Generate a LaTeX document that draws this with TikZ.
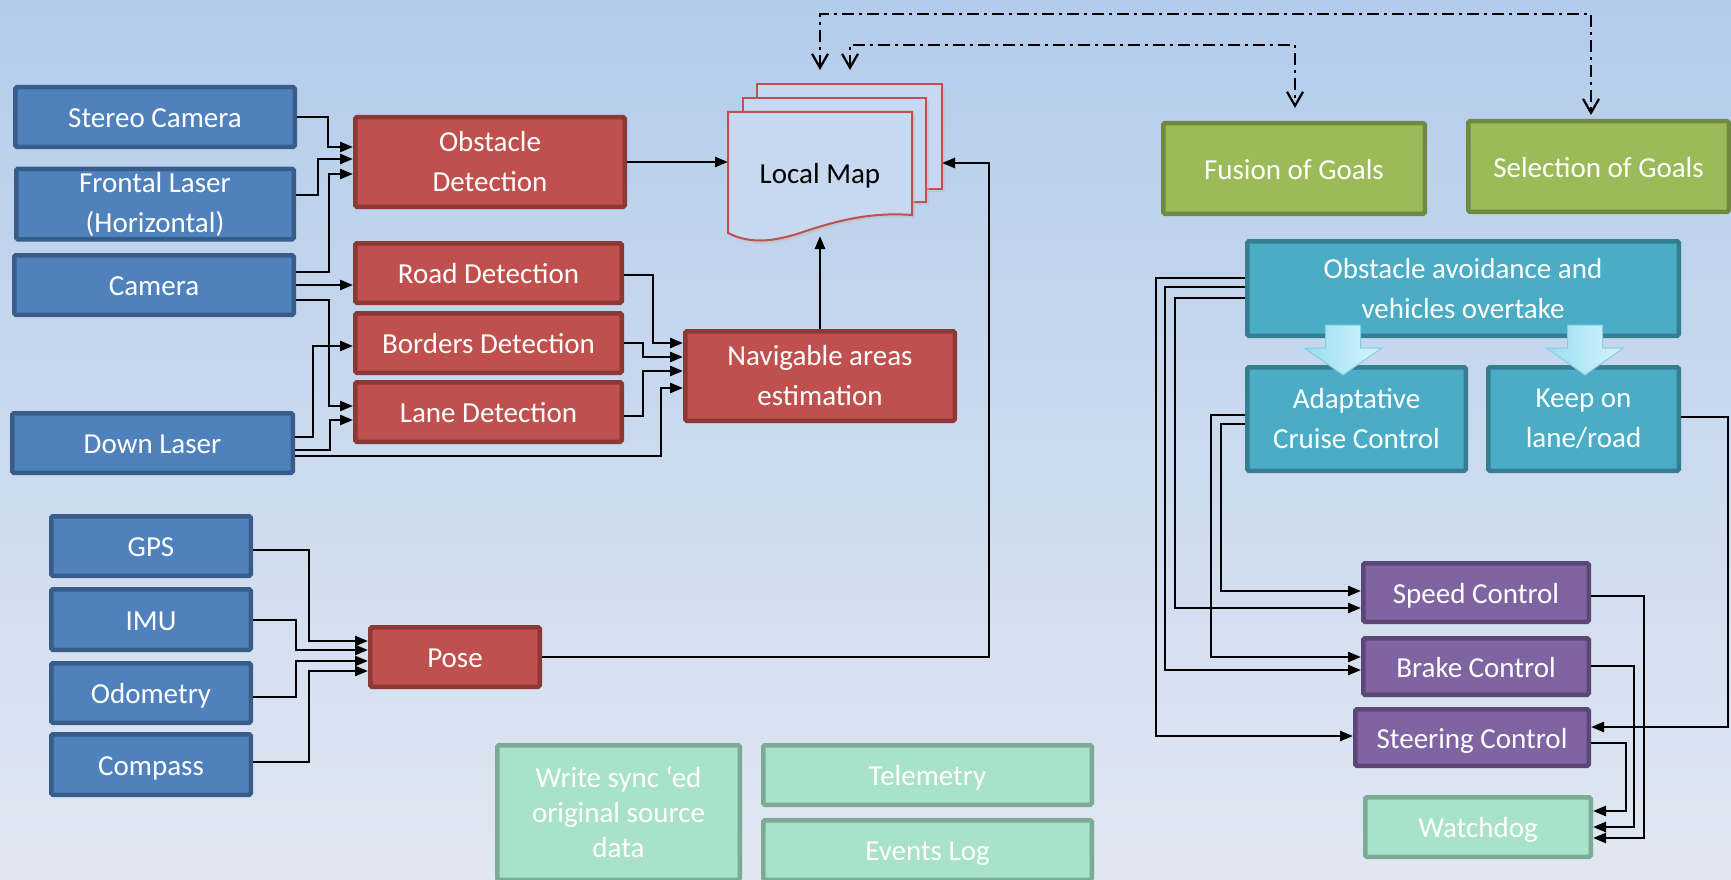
\documentclass[tikz,border=0pt]{standalone}
\usepackage{fontspec}
\setmainfont{Carlito}
\usetikzlibrary{arrows.meta}
\definecolor{bF}{HTML}{4F81BD}\definecolor{bD}{HTML}{385D8A}
\definecolor{rF}{HTML}{C0504D}\definecolor{rD}{HTML}{8C3836}
\definecolor{gF}{HTML}{9BBB59}\definecolor{gD}{HTML}{71893F}
\definecolor{tF}{HTML}{4BACC6}\definecolor{tD}{HTML}{357D91}
\definecolor{pF}{HTML}{8064A2}\definecolor{pD}{HTML}{5C4776}
\definecolor{mF}{HTML}{A9E2CA}\definecolor{mD}{HTML}{7BAA95}
\definecolor{bgT}{HTML}{B3CCEB}\definecolor{bgB}{HTML}{E1E7F2}
\definecolor{mapF}{HTML}{C6D9F0}
\definecolor{arrL}{HTML}{9ADCF0}\definecolor{arrR}{HTML}{D6F6FF}\definecolor{arrD}{HTML}{86CDE2}
\begin{document}
\begin{tikzpicture}[x=1pt,y=-1pt,
  box/.style={rectangle, rounded corners=1.5pt, line width=4.5pt, outer sep=2.25pt, inner sep=0pt, text=white,
    font=\fontsize{29}{40}\selectfont, align=center},
  one/.style={text height=21pt, text depth=0pt},
  sz/.style 2 args={minimum width=#1pt-4.5pt, minimum height=#2pt-4.5pt},
  bluebox/.style={box, fill=bF, draw=bD},
  redbox/.style={box, fill=rF, draw=rD},
  greenbox/.style={box, fill=gF, draw=gD},
  tealbox/.style={box, fill=tF, draw=tD},
  purplebox/.style={box, fill=pF, draw=pD},
  mintbox/.style={box, fill=mF, draw=mD},
  conn/.style={line width=2.5pt, -{Triangle[length=13pt,width=10pt]}},
  dd/.style={line width=2.2pt, dash pattern=on 12pt off 5pt on 3pt off 5pt,
    {Straight Barb[length=14pt,width=16pt]}-{Straight Barb[length=14pt,width=16pt]}},
  mappage/.style={fill=mapF, draw=rF, line width=2pt}
]
\useasboundingbox (0,0) rectangle (1731,880);
\clip (0,0) rectangle (1731,880);
\fill[top color=bgT, bottom color=bgB] (0,0) rectangle (1731,880);

% ---- left sensors
\node[bluebox, one, sz={284}{64}] (sc) at (155,117) {Stereo Camera};
\node[bluebox, sz={282}{75}] (fl) at (155,204) {Frontal Laser\\(Horizontal)};
\node[bluebox, one, sz={284}{64}] (cam) at (154,285) {Camera};
\node[bluebox, one, sz={285}{64}] (dl) at (152.5,443) {Down Laser};
\node[bluebox, one, sz={204}{64}] (gps) at (151,546) {GPS};
\node[bluebox, one, sz={204}{65}] (imu) at (151,619.5) {IMU};
\node[bluebox, one, sz={204}{64}] (odo) at (151,693) {Odometry};
\node[bluebox, one, sz={204}{65}] (comp) at (151,764.5) {Compass};

% ---- red processing
\node[redbox, sz={274}{94}] (od) at (490,162) {Obstacle\\Detection};
\node[redbox, one, sz={271}{64}] (rd) at (488.5,273) {Road Detection};
\node[redbox, one, sz={271}{64}] (bd) at (488.5,343) {Borders Detection};
\node[redbox, one, sz={271}{64}] (ld) at (488.5,412) {Lane Detection};
\node[redbox, sz={274}{94}] (nav) at (820,376) {Navigable areas\\estimation};
\node[redbox, one, sz={174}{64}] (pose) at (455,657) {Pose};

% ---- local map
\fill[black!25, opacity=0.5] (760,87) rectangle (945,192);
\draw[mappage] (757,84) rectangle (942,189);
\fill[black!25, opacity=0.5] (746,101) rectangle (929,205);
\draw[mappage] (743,98) rectangle (926,202);
\fill[black!25, opacity=0.5] (731,115) -- (915,115) -- (915,218)
  .. controls (875,215) and (841,223) .. (803,236)
  .. controls (775,245) and (753,247) .. (731,236) -- cycle;
\draw[mappage] (728,112) -- (912,112) -- (912,215)
  .. controls (872,212) and (838,220) .. (800,233)
  .. controls (772,242) and (750,244) .. (728,233) -- cycle;
\node[font=\fontsize{29}{40}\selectfont, text height=21pt, text depth=0pt, inner sep=0pt] (lm) at (820,173) {Local Map};
\coordinate (lmL) at (728,162);
\coordinate (lmR) at (942,163);
\coordinate (lmB) at (820,236);
\coordinate (lmT1) at (820,70);
\coordinate (lmT2) at (850,70);

% ---- goals
\node[greenbox, one, sz={266}{95}] (fg) at (1294,168.5) {Fusion of Goals};
\node[greenbox, one, sz={265}{95}] (sg) at (1598.5,166.5) {Selection of Goals};
\coordinate (fgT) at (1295,108);
\coordinate (sgT) at (1591,115);

% ---- teal behaviours
\node[tealbox, sz={436}{99}] (oa) at (1463,288.5) {Obstacle avoidance and\\vehicles overtake};
\node[tealbox, sz={223}{108}] (acc) at (1356.5,419) {Adaptative\\Cruise Control};
\node[tealbox, sz={195}{108}] (kol) at (1583.5,419) {Keep on\\lane/road};
\shade[left color=arrL, right color=arrR, draw=arrD, line width=1pt]
  (1325.5,325) -- (1360.5,325) -- (1360.5,348) -- (1381.5,348) -- (1343,375)
  -- (1304.5,348) -- (1325.5,348) -- cycle;
\shade[left color=arrL, right color=arrR, draw=arrD, line width=1pt]
  (1567.5,325) -- (1602.5,325) -- (1602.5,348) -- (1623.5,348) -- (1585,375)
  -- (1546.5,348) -- (1567.5,348) -- cycle;

% ---- controls
\node[purplebox, one, sz={230}{63}] (spd) at (1476,592.5) {Speed Control};
\node[purplebox, one, sz={230}{61}] (brk) at (1476,666.5) {Brake Control};
\node[purplebox, one, sz={238}{61}] (str) at (1472,737.5) {Steering Control};
\node[mintbox, one, sz={230}{64}] (wd) at (1478,827) {Watchdog};

% ---- bottom
\node[mintbox, sz={247}{139}, font=\fontsize{29}{35}\selectfont] (ws) at (618.5,812.5) {Write sync ‘ed\\original source\\data};
\node[mintbox, one, sz={333}{64}] (tel) at (927.5,775) {Telemetry};
\node[mintbox, one, sz={333}{64}] (ev) at (927.5,850) {Events Log};

% ---- connectors left
\draw[conn] (sc.east) -| (328,147) -- (od.west |- 0,147);
\draw[conn] (fl.east |- 0,195) -| (318,159) -- (od.west |- 0,159);
\draw[conn] (cam.east |- 0,272) -| (329,174) -- (od.west |- 0,174);
\draw[conn] (cam.east |- 0,285) -- (rd.west |- 0,285);
\draw[conn] (cam.east |- 0,300) -| (329,406) -- (ld.west |- 0,406);
\draw[conn] (dl.east |- 0,437) -| (313,346) -- (bd.west |- 0,346);
\draw[conn] (dl.east |- 0,450) -| (330,420) -- (ld.west |- 0,420);
\draw[conn] (dl.east |- 0,456) -| (661,388) -- (nav.west |- 0,388);
\draw[conn] (rd.east |- 0,275) -| (653,343) -- (nav.west |- 0,343);
\draw[conn] (bd.east |- 0,343) -| (643,357) -- (nav.west |- 0,357);
\draw[conn] (ld.east |- 0,416) -| (643,371) -- (nav.west |- 0,371);
\draw[conn] (od.east) -- (lmL);
\draw[conn] (nav.north) -- (lmB);
\draw[conn] (gps.east |- 0,550) -| (309,641) -- (pose.west |- 0,641);
\draw[conn] (imu.east |- 0,620) -| (296,650) -- (pose.west |- 0,650);
\draw[conn] (odo.east |- 0,697) -| (296,661) -- (pose.west |- 0,661);
\draw[conn] (comp.east |- 0,762) -| (309,671) -- (pose.west |- 0,671);
\draw[conn] (pose.east) -| (989,163) -- (lmR);

% ---- dash-dot feedback
\draw[dd] (lmT1) |- (1591,14) -- (sgT);
\draw[dd] (lmT2) |- (1295,45) -- (fgT);

% ---- connectors right
\draw[conn] (oa.west |- 0,278) -| (1156,736) -- (str.west |- 0,736);
\draw[conn] (oa.west |- 0,287) -| (1165,670) -- (brk.west |- 0,670);
\draw[conn] (oa.west |- 0,298) -| (1175,608) -- (spd.west |- 0,608);
\draw[conn] (acc.west |- 0,415) -| (1211,657) -- (brk.west |- 0,657);
\draw[conn] (acc.west |- 0,424) -| (1221,591) -- (spd.west |- 0,591);
\draw[conn] (kol.east |- 0,417) -| (1728,727) -- (str.east |- 0,727);
\draw[conn] (spd.east |- 0,596) -| (1644,838) -- (wd.east |- 0,838);
\draw[conn] (brk.east |- 0,666) -| (1634,827) -- (wd.east |- 0,827);
\draw[conn] (str.east |- 0,743) -| (1626,811) -- (wd.east |- 0,811);
\end{tikzpicture}
\end{document}
